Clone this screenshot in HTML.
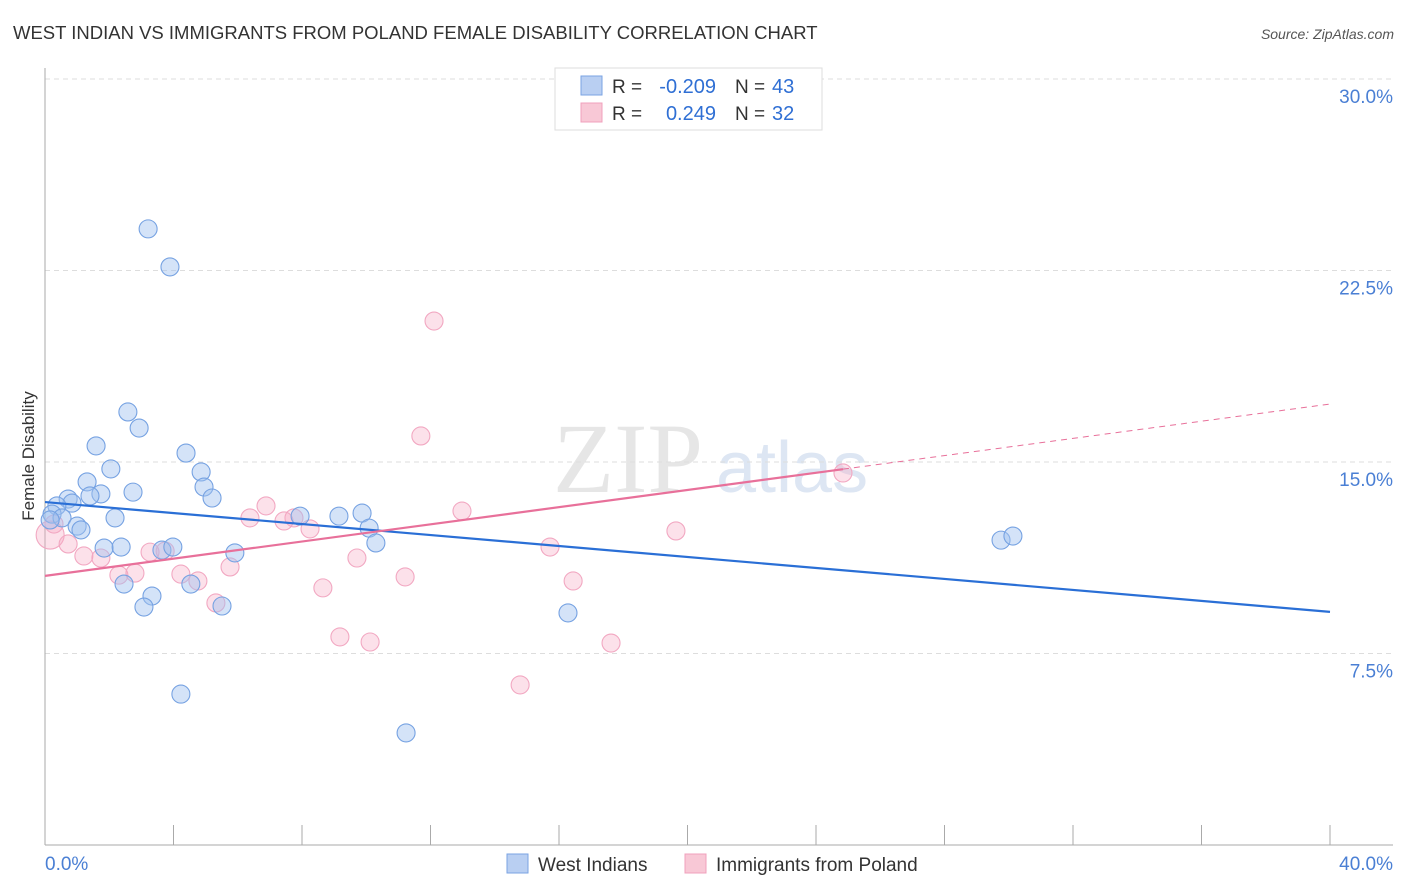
<!DOCTYPE html>
<html><head><meta charset="utf-8"><style>
body{margin:0;background:#fff;font-family:"Liberation Sans",sans-serif;}
svg{display:block}
</style></head><body>
<svg id="chart" width="1406" height="892">
<text x="13" y="39" font-size="18.5" fill="#333">WEST INDIAN VS IMMIGRANTS FROM POLAND FEMALE DISABILITY CORRELATION CHART</text>
<text x="1394" y="39" font-size="14" fill="#555" text-anchor="end" font-style="italic">Source: ZipAtlas.com</text>
<text x="553" y="492" font-size="100" fill="#e6e6e6" font-family="Liberation Serif">ZIP</text>
<text x="716" y="492" font-size="72" fill="#dde6f3">atlas</text>
<g id="grid"></g>
<g id="axes"></g>
<text transform="translate(34,456) rotate(-90)" font-size="17" fill="#333" text-anchor="middle">Female Disability</text>
<text x="45" y="870" font-size="19" fill="#4a7fd4">0.0%</text>
<text x="1393" y="870" font-size="19" fill="#4a7fd4" text-anchor="end">40.0%</text>
<g id="pts"></g>
<g id="lines"></g>
<g>
<rect x="555" y="68" width="267" height="62" fill="#fff" stroke="#ddd"/>
<rect x="581" y="76" width="21" height="19" fill="#b9cff2" stroke="#7aa3e3"/>
<rect x="581" y="103" width="21" height="19" fill="#f8c8d6" stroke="#f0a0bc"/>
<text x="612" y="93" font-size="19" fill="#333">R =</text>
<text x="716" y="93" font-size="20" fill="#2f6fd4" text-anchor="end">-0.209</text>
<text x="735" y="93" font-size="19" fill="#333">N =</text>
<text x="772" y="93" font-size="20" fill="#2f6fd4">43</text>
<text x="612" y="120" font-size="19" fill="#333">R =</text>
<text x="716" y="120" font-size="20" fill="#2f6fd4" text-anchor="end">0.249</text>
<text x="735" y="120" font-size="19" fill="#333">N =</text>
<text x="772" y="120" font-size="20" fill="#2f6fd4">32</text>
</g>
<g>
<rect x="507" y="854" width="21" height="19" fill="#b9cff2" stroke="#7aa3e3"/>
<text x="538" y="871" font-size="19" fill="#333">West Indians</text>
<rect x="685" y="854" width="21" height="19" fill="#f8c8d6" stroke="#f0a0bc"/>
<text x="716" y="871" font-size="19" fill="#333">Immigrants from Poland</text>
</g>
</svg>
<script>
const yTicks=[7.5,15,22.5,30];
const yTickLabels=["7.5%","15.0%","22.5%","30.0%"];
const xTicks=[0,4,8,12,16,20,24,28,32,36,40];
const blueX=[3.21,3.89,2.58,2.93,1.59,4.39,2.05,4.86,1.31,4.95,2.74,5.20,0.72,1.74,1.40,0.84,0.37,0.22,0.53,1.00,1.12,2.18,7.94,9.15,9.87,10.09,10.30,1.84,2.37,3.64,3.98,5.91,2.46,4.54,3.33,3.08,5.51,4.23,11.24,16.28,29.76,30.13,0.16];
const blueY=[24.13,22.64,16.96,16.33,15.63,15.35,14.73,14.61,14.22,14.02,13.82,13.59,13.55,13.75,13.67,13.39,13.28,12.96,12.81,12.49,12.34,12.81,12.88,12.88,13.00,12.41,11.83,11.63,11.67,11.55,11.67,11.44,10.22,10.22,9.75,9.32,9.36,5.91,4.39,9.09,11.94,12.10,12.73];
const pinkX=[12.11,11.70,24.84,6.88,12.98,6.38,7.75,7.44,8.25,19.64,0.16,0.72,1.21,1.74,15.72,3.27,3.74,9.71,5.76,2.30,2.80,4.23,4.76,11.21,16.44,8.65,5.32,9.18,10.12,17.62,14.79,0.28];
const pinkY=[20.52,16.02,14.57,13.28,13.08,12.81,12.81,12.69,12.38,12.30,12.14,11.79,11.32,11.24,11.67,11.47,11.51,11.24,10.89,10.57,10.65,10.61,10.34,10.50,10.34,10.07,9.48,8.15,7.95,7.91,6.27,12.57];
const blueTrend=[13.43,9.13];
const pinkTrend=[10.54,17.27];
const pinkSolidEnd=24.84;
const NS="http://www.w3.org/2000/svg";
const X=v=>45+v/40*1285;
const Y=v=>845-v/30*766;
function mk(t,a,p){const e=document.createElementNS(NS,t);for(const k in a)e.setAttribute(k,a[k]);p.appendChild(e);return e;}
const grid=document.getElementById('grid'),axes=document.getElementById('axes');
yTicks.forEach((t,i)=>{
 const l=mk('line',{x1:45,x2:1393,y1:Y(t),y2:Y(t),stroke:'#ddd','stroke-dasharray':'5,4'},grid);
 
 
 const tx=mk('text',{x:1393,y:Y(t)+24,'font-size':19,fill:'#4a7fd4','text-anchor':'end'},grid);
 tx.textContent=yTickLabels[i];
 
 
});
const ya=mk('line',{x1:45,x2:45,y1:68,y2:845,stroke:'#aaa'},axes);


const xa=mk('line',{x1:45,x2:1393,y1:845,y2:845,stroke:'#aaa'},axes);


xTicks.forEach(t=>{const l=mk('line',{x1:X(t),x2:X(t),y1:825,y2:845,stroke:'#aaa'},axes);
 
 });
const pts=document.getElementById('pts');
pinkX.forEach((x,i)=>{const c=mk('circle',{cx:X(x),cy:Y(pinkY[i]),r:(i==10?14:9),fill:'rgba(245,170,195,0.35)',stroke:'#f2a8c2','stroke-width':1.1},pts);
 
 });
blueX.forEach((x,i)=>{const c=mk('circle',{cx:X(x),cy:Y(blueY[i]),r:9,fill:'rgba(160,192,240,0.45)',stroke:'#76a2e2','stroke-width':1.1},pts);
 
 });
const lines=document.getElementById('lines');
const b=mk('line',{x1:X(0),y1:Y(blueTrend[0]),x2:X(40),y2:Y(blueTrend[1]),stroke:'#2a6fd6','stroke-width':2.2},lines);


const pAt=v=>pinkTrend[0]+(pinkTrend[1]-pinkTrend[0])*v/40;
const p=mk('line',{x1:X(0),y1:Y(pinkTrend[0]),x2:X(pinkSolidEnd),y2:Y(pAt(pinkSolidEnd)),stroke:'#e8709a','stroke-width':2.2},lines);


const pd=mk('line',{x1:X(pinkSolidEnd),y1:Y(pAt(pinkSolidEnd)),x2:X(40),y2:Y(pinkTrend[1]),stroke:'#e8709a','stroke-width':1,'stroke-dasharray':'6,5'},lines);


</script>
</body></html>
